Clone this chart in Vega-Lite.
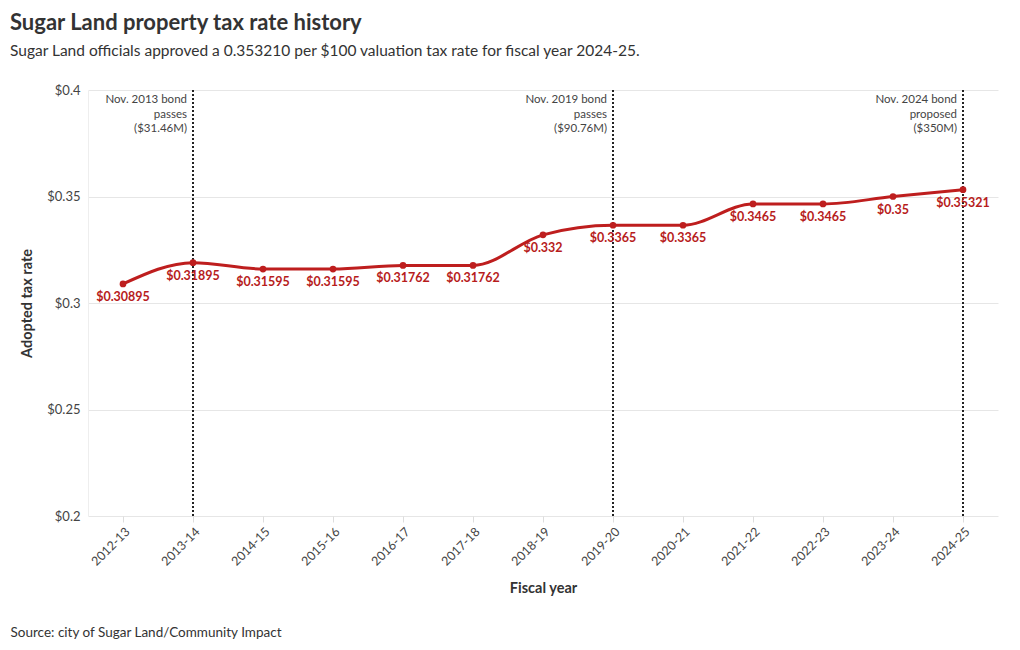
{
  "$schema": "https://vega.github.io/schema/vega-lite/v6.json",
  "width": 910,
  "height": 426,
  "autosize": {"type": "none"},
  "padding": {"left": 88, "top": 90, "right": 22, "bottom": 134},
  "background": "white",
  "title": {
    "text": "Sugar Land property tax rate history",
    "subtitle": "Sugar Land officials approved a 0.353210 per $100 valuation tax rate for fiscal year 2024-25.",
    "anchor": "start",
    "frame": "group",
    "dx": -78,
    "offset": 24,
    "font": "Lato",
    "fontSize": 22,
    "fontWeight": "bold",
    "color": "#333333",
    "subtitleFont": "Lato",
    "subtitleFontSize": 15.5,
    "subtitleColor": "#333333",
    "subtitlePadding": 9
  },
  "config": {"font": "Lato", "view": {"stroke": null}},
  "datasets": {
    "rates": [
      {"year": "2012-13", "rate": 0.30895},
      {"year": "2013-14", "rate": 0.31895},
      {"year": "2014-15", "rate": 0.31595},
      {"year": "2015-16", "rate": 0.31595},
      {"year": "2016-17", "rate": 0.31762},
      {"year": "2017-18", "rate": 0.31762},
      {"year": "2018-19", "rate": 0.332},
      {"year": "2019-20", "rate": 0.3365},
      {"year": "2020-21", "rate": 0.3365},
      {"year": "2021-22", "rate": 0.3465},
      {"year": "2022-23", "rate": 0.3465},
      {"year": "2023-24", "rate": 0.35},
      {"year": "2024-25", "rate": 0.35321}
    ],
    "bonds": [
      {"year": "2013-14", "note": ["Nov. 2013 bond", "passes", "($31.46M)"]},
      {"year": "2019-20", "note": ["Nov. 2019 bond", "passes", "($90.76M)"]},
      {"year": "2024-25", "note": ["Nov. 2024 bond", "proposed", "($350M)"]}
    ]
  },
  "resolve": {"axis": {"x": "independent"}},
  "layer": [
    {
      "data": {"name": "bonds"},
      "mark": {"type": "rule", "strokeDash": [2, 2], "strokeWidth": 2, "color": "#222222"},
      "encoding": {
        "x": {
          "field": "year", "type": "ordinal",
          "scale": {"type": "point", "padding": 0.5, "domain": ["2012-13","2013-14","2014-15","2015-16","2016-17","2017-18","2018-19","2019-20","2020-21","2021-22","2022-23","2023-24","2024-25"]},
          "axis": {
            "orient": "bottom",
            "title": "Source: city of Sugar Land/Community Impact",
            "labels": false, "ticks": false, "domain": false, "grid": false,
            "titleX": -78, "titleY": 120,
            "titleAlign": "left", "titleAnchor": "start", "titleBaseline": "alphabetic",
            "titleFontWeight": "normal", "titleFontSize": 13.5, "titleColor": "#333333", "titleFont": "Lato"
          }
        }
      }
    },
    {
      "data": {"name": "bonds"},
      "mark": {"type": "text", "align": "right", "baseline": "top", "dx": -6, "dy": 4, "fontSize": 11.5, "color": "#444444", "lineHeight": 14.5},
      "encoding": {
        "x": {"field": "year", "type": "ordinal", "axis": null},
        "y": {"datum": 0.4, "type": "quantitative"},
        "text": {"field": "note"}
      }
    },
    {
      "data": {"name": "rates"},
      "mark": {"type": "line", "interpolate": "monotone", "color": "#be1e1e", "strokeWidth": 3},
      "encoding": {
        "x": {
          "field": "year", "type": "ordinal",
          "axis": {
            "orient": "bottom",
            "title": "Fiscal year", "labelAngle": -45, "labelFontSize": 12.5, "labelColor": "#444444",
            "tickColor": "#dddddd", "tickSize": 6, "domain": false, "grid": false,
            "titleFontSize": 14.5, "titleFontWeight": "bold", "titleColor": "#333333", "titlePadding": 14, "labelPadding": 3
          }
        },
        "y": {
          "field": "rate", "type": "quantitative",
          "scale": {"domain": [0.2, 0.4], "zero": false},
          "axis": {
            "title": "Adopted tax rate", "values": [0.2, 0.25, 0.3, 0.35, 0.4], "grid": true,
            "labelExpr": "'$' + datum.value", "ticks": false, "domain": true, "domainColor": "#eeeeee",
            "gridColor": "#e6e6e6", "labelFontSize": 13, "labelColor": "#444444", "labelPadding": 8,
            "titleFontSize": 14.5, "titleFontWeight": "bold", "titleColor": "#333333", "titlePadding": 12
          }
        }
      }
    },
    {
      "data": {"name": "rates"},
      "mark": {"type": "circle", "color": "#be1e1e", "size": 45, "opacity": 1},
      "encoding": {
        "x": {"field": "year", "type": "ordinal", "axis": null},
        "y": {"field": "rate", "type": "quantitative"}
      }
    },
    {
      "data": {"name": "rates"},
      "mark": {"type": "text", "color": "#b71c1c", "fontWeight": "bold", "fontSize": 12.5, "dy": 13, "baseline": "middle"},
      "encoding": {
        "x": {"field": "year", "type": "ordinal", "axis": null},
        "y": {"field": "rate", "type": "quantitative"},
        "text": {"field": "rate", "type": "quantitative", "format": "$~g"}
      }
    }
  ]
}
